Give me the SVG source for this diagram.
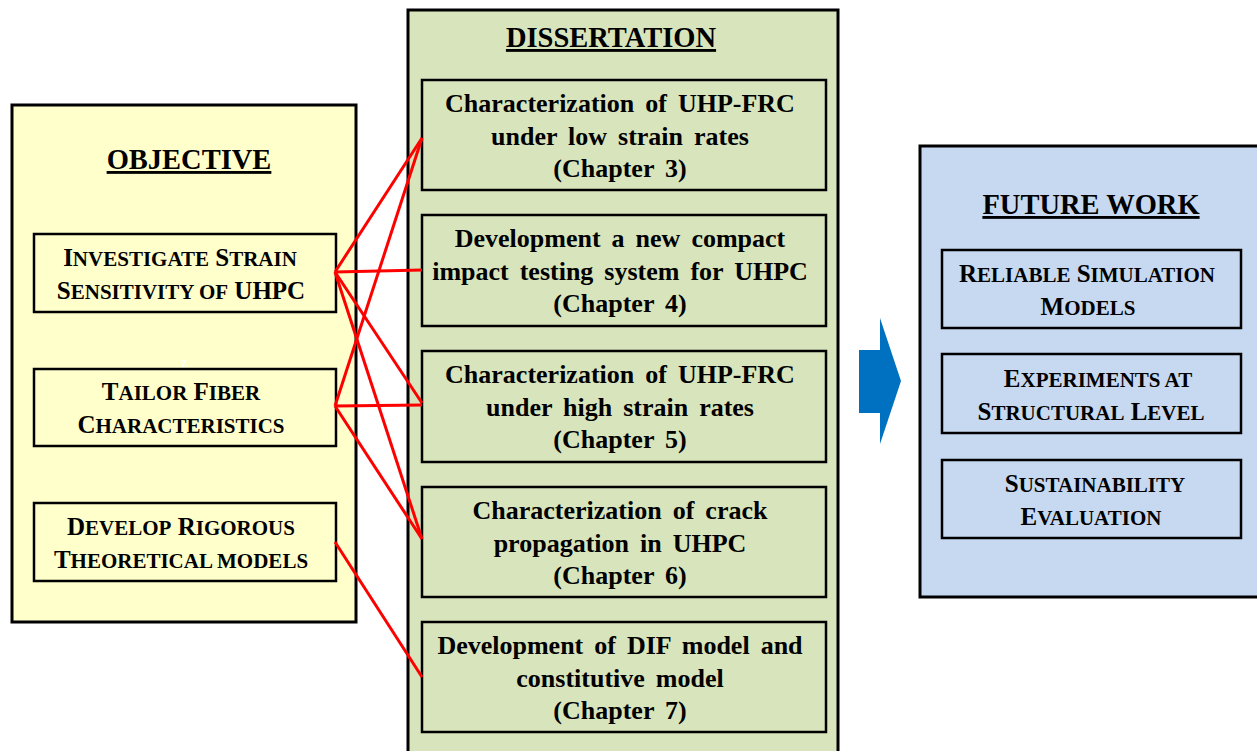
<svg xmlns="http://www.w3.org/2000/svg" width="1257" height="751" viewBox="0 0 1257 751">
<style>
text{font-family:"Liberation Serif","Times New Roman",serif;font-weight:bold;fill:#000;text-anchor:middle}
.t{font-size:28.5px;text-decoration:underline}
.sc{font-size:25px}
.sc tspan{font-size:21px}
.ch{font-size:26px;word-spacing:4.5px}
.outer{stroke:#000;stroke-width:3}
.inner{stroke:#000;stroke-width:2.5}
.con{stroke:#FF0000;stroke-width:3;fill:none}
</style>
<rect width="1257" height="751" fill="#fff"/>
<g id="objective">
<rect class="outer" x="12" y="105" width="344" height="517" fill="#FFFFCC"/>
<text class="t" x="189" y="169">OBJECTIVE</text>
<text x="184" y="367" style="font-size:14px;fill:#fff;font-weight:normal">z</text>
</g>
<g id="obj1">
<rect class="inner" x="34" y="234" width="302" height="78" fill="#FFFFCC"/>
<text class="sc" x="180" y="266">I<tspan>NVESTIGATE</tspan> S<tspan>TRAIN</tspan></text>
<text class="sc" x="181" y="299">S<tspan>ENSITIVITY OF</tspan> UHPC</text>
</g>
<g id="obj2">
<rect class="inner" x="34" y="369" width="302" height="77" fill="#FFFFCC"/>
<text class="sc" x="181" y="400">T<tspan>AILOR</tspan> F<tspan>IBER</tspan></text>
<text class="sc" x="181" y="433">C<tspan>HARACTERISTICS</tspan></text>
</g>
<g id="obj3">
<rect class="inner" x="34" y="503" width="302" height="78" fill="#FFFFCC"/>
<text class="sc" x="181" y="535">D<tspan>EVELOP</tspan> R<tspan>IGOROUS</tspan></text>
<text class="sc" x="181" y="568">T<tspan>HEORETICAL MODELS</tspan></text>
</g>
<g id="dissertation">
<rect class="outer" x="408" y="10" width="430" height="750" fill="#D8E4BC"/>
<text class="t" x="611" y="47">DISSERTATION</text>
</g>
<g id="ch3">
<rect class="inner" x="422" y="80" width="404" height="110" fill="#D8E4BC"/>
<text class="ch" x="620" y="112">Characterization of UHP-FRC</text>
<text class="ch" x="620" y="145">under low strain rates</text>
<text class="ch" x="620" y="177">(Chapter 3)</text>
</g>
<g id="ch4">
<rect class="inner" x="422" y="215" width="404" height="111" fill="#D8E4BC"/>
<text class="ch" x="620" y="247">Development a new compact</text>
<text class="ch" x="620" y="280">impact testing system for UHPC</text>
<text class="ch" x="620" y="312">(Chapter 4)</text>
</g>
<g id="ch5">
<rect class="inner" x="422" y="351" width="404" height="111" fill="#D8E4BC"/>
<text class="ch" x="620" y="383">Characterization of UHP-FRC</text>
<text class="ch" x="620" y="416">under high strain rates</text>
<text class="ch" x="620" y="448">(Chapter 5)</text>
</g>
<g id="ch6">
<rect class="inner" x="422" y="487" width="404" height="110" fill="#D8E4BC"/>
<text class="ch" x="620" y="519">Characterization of crack</text>
<text class="ch" x="620" y="552">propagation in UHPC</text>
<text class="ch" x="620" y="584">(Chapter 6)</text>
</g>
<g id="ch7">
<rect class="inner" x="422" y="622" width="404" height="110" fill="#D8E4BC"/>
<text class="ch" x="620" y="654">Development of DIF model and</text>
<text class="ch" x="620" y="687">constitutive model</text>
<text class="ch" x="620" y="719">(Chapter 7)</text>
</g>
<g id="arrow">
<polygon points="859,350 880,350 880,318 901,381 880,444 880,413 859,413" fill="#0070C0"/>
</g>
<g id="future">
<rect class="outer" x="920" y="146" width="340" height="451" fill="#C6D9F1"/>
<text class="t" x="1091" y="214">FUTURE WORK</text>
</g>
<g id="fw1">
<rect class="inner" x="942" y="250" width="299" height="78" fill="#C6D9F1"/>
<text class="sc" x="1087" y="282">R<tspan>ELIABLE</tspan> S<tspan>IMULATION</tspan></text>
<text class="sc" x="1088" y="315">M<tspan>ODELS</tspan></text>
</g>
<g id="fw2">
<rect class="inner" x="942" y="354" width="299" height="79" fill="#C6D9F1"/>
<text class="sc" x="1098" y="387">E<tspan>XPERIMENTS AT</tspan></text>
<text class="sc" x="1091" y="420">S<tspan>TRUCTURAL</tspan> L<tspan>EVEL</tspan></text>
</g>
<g id="fw3">
<rect class="inner" x="942" y="460" width="299" height="78" fill="#C6D9F1"/>
<text class="sc" x="1095" y="492">S<tspan>USTAINABILITY</tspan></text>
<text class="sc" x="1091" y="525">E<tspan>VALUATION</tspan></text>
</g>
<g id="connectors">
<line class="con" x1="335" y1="272" x2="422" y2="138"/>
<line class="con" x1="335" y1="272" x2="422" y2="270"/>
<line class="con" x1="335" y1="272" x2="422" y2="403"/>
<line class="con" x1="335" y1="272" x2="422" y2="539"/>
<line class="con" x1="335" y1="406" x2="422" y2="138"/>
<line class="con" x1="335" y1="406" x2="422" y2="405"/>
<line class="con" x1="335" y1="406" x2="422" y2="539"/>
<line class="con" x1="335" y1="542" x2="422" y2="677"/>
</g>
</svg>
